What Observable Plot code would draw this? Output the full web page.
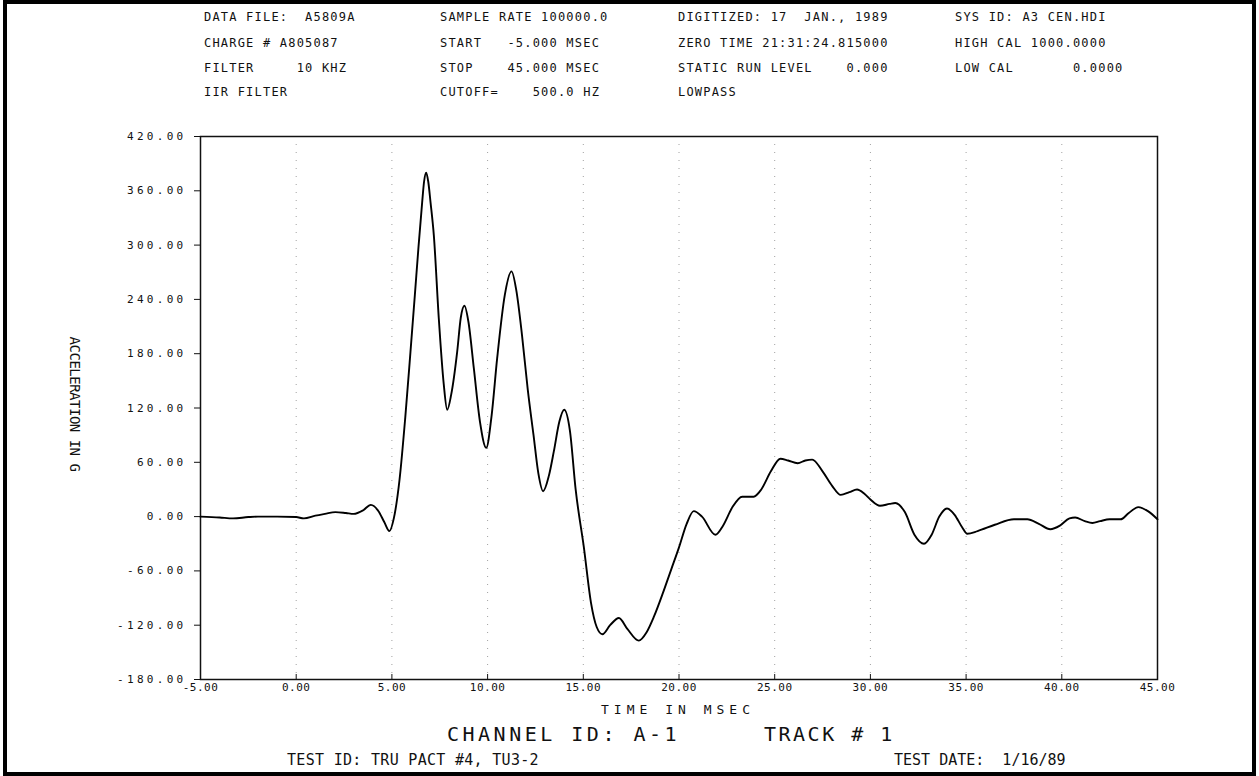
<!DOCTYPE html>
<html><head><meta charset="utf-8">
<script src="https://cdn.jsdelivr.net/npm/d3@7"></script>
<script src="https://cdn.jsdelivr.net/npm/@observablehq/plot@0.6"></script>
<style>
body{margin:0;background:#fff;}
#page{position:relative;width:1259px;height:776px;overflow:hidden;font-family:"DejaVu Sans Mono",monospace;color:#111;background:#fff;}
#border{position:absolute;left:3px;top:0;width:1253px;height:776px;border:4px solid #000;box-sizing:border-box;pointer-events:none;}
#chart{position:absolute;left:0;top:0;}
.t{position:absolute;white-space:pre;line-height:1;transform:translateY(-50%);}
.hd{font-size:12px;letter-spacing:1.2px;}
</style></head><body>
<div id="page"><div id="chart"></div><div id="border"></div></div>
<script>
// ---- data ----
const time = [-5.0,-4.0,-3.3,-2.5,-2.0,-1.0,0.0,0.4,1.0,1.5,2.05,2.6,3.0,3.5,3.9,4.3,4.6,4.87,5.1,5.4,5.7,5.97,6.2,6.39,6.58,6.68,6.79,6.9,7.02,7.19,7.45,7.71,7.89,8.1,8.41,8.6,8.79,9.0,9.28,9.6,9.93,10.2,10.5,10.9,11.25,11.5,11.8,12.1,12.4,12.65,12.9,13.2,13.46,13.75,14.0,14.3,14.6,15.03,15.4,15.7,16.0,16.4,16.86,17.3,17.9,18.3,18.7,19.2,19.6,20.0,20.4,20.77,21.2,21.9,22.3,22.78,23.3,23.9,24.3,24.8,25.3,25.7,26.2,26.6,26.96,27.5,28.0,28.45,28.9,29.3,29.7,30.0,30.5,31.0,31.3,31.8,32.3,32.8,33.2,33.6,34.0,34.4,34.8,35.06,35.6,36.5,37.5,38.2,38.8,39.4,39.9,40.4,40.7,41.2,41.6,42.0,42.5,43.07,43.5,44.0,44.5,45.0];
const accel = [0,-1,-2,-0.5,0,0,-0.5,-2,1,3,5,4,3,7,13,6,-6,-16,-2,41,110,182,245,298,347,370,380,370,347,311,219,146,118,135,182,220,233,215,164,105,76,110,175,245,271,250,200,140,90,48,28,45,72,105,118,95,30,-34,-95,-122,-130,-120,-112,-124,-137,-128,-110,-82,-58,-34,-8,6,0,-20,-10,10,22,22,30,50,64,62,59,62,63,50,34,24,27,30,25,19,12,14,15,5,-20,-30,-20,0,9,2,-12,-19,-16,-9,-3,-3,-8,-14,-10,-2,-1,-5,-7,-5,-3,-3,4,10.5,6,-3];
const xTicks = [-5,0,5,10,15,20,25,30,35,40,45];
const yTicks = [-180,-120,-60,0,60,120,180,240,300,360,420];

// ---- header / footer text ----
const headerRows = [17, 43, 68, 92];
const headerItems = [
  {x:204, r:0, t:"DATA FILE:  A5809A"},
  {x:204, r:1, t:"CHARGE # A805087"},
  {x:204, r:2, t:"FILTER     10 KHZ"},
  {x:204, r:3, t:"IIR FILTER"},
  {x:440, r:0, t:"SAMPLE RATE 100000.0"},
  {x:440, r:1, t:"START   -5.000 MSEC"},
  {x:440, r:2, t:"STOP    45.000 MSEC"},
  {x:440, r:3, t:"CUTOFF=    500.0 HZ"},
  {x:678, r:0, t:"DIGITIZED: 17  JAN., 1989"},
  {x:678, r:1, t:"ZERO TIME 21:31:24.815000"},
  {x:678, r:2, t:"STATIC RUN LEVEL    0.000"},
  {x:678, r:3, t:"LOWPASS"},
  {x:955, r:0, t:"SYS ID: A3 CEN.HDI"},
  {x:955, r:1, t:"HIGH CAL 1000.0000"},
  {x:955, r:2, t:"LOW CAL       0.0000"}
];
const yLabel = "ACCELERATION IN G";
const xLabel = "TIME IN MSEC";
const channelText = "CHANNEL ID: A-1";
const trackText = "TRACK # 1";
const testIdText = "TEST ID: TRU PACT #4, TU3-2";
const testDateText = "TEST DATE:  1/16/89";

const data = time.map((t, i) => ({t, a: accel[i]}));

const plot = Plot.plot({
  width: 1259, height: 776,
  marginLeft: 200, marginRight: 102, marginTop: 136, marginBottom: 97,
  style: {fontFamily: "DejaVu Sans Mono, monospace", color: "#111", background: "transparent"},
  x: {domain: [-5, 45]},
  y: {domain: [-180, 420]},
  marks: [
    Plot.ruleX(xTicks.slice(1, -1), {stroke: "#777", strokeWidth: 1, strokeDasharray: "1,7", strokeOpacity: 0.7}),
    Plot.frame({stroke: "#111", strokeWidth: 1.5}),
    Plot.axisY({ticks: yTicks, tickFormat: d => d.toFixed(2), tickSize: 6, tickPadding: 8, fontSize: 11, label: null, stroke: "#111"}),
    Plot.axisX({ticks: xTicks, tickFormat: d => d.toFixed(2), tickSize: -5, tickPadding: 9, fontSize: 11, label: null, stroke: "#111"}),
    Plot.line(data, {x: "t", y: "a", curve: "monotone-x", stroke: "#000", strokeWidth: 1.9})
  ]
});
document.getElementById("chart").appendChild(plot);
d3.select(plot).selectAll('g[aria-label="y-axis tick label"] text').style("letter-spacing", "3.3px");
d3.select(plot).selectAll('g[aria-label="x-axis tick label"] text').style("letter-spacing", "0.5px");

const page = document.getElementById("page");
function addText(x, y, text, css, cls) {
  const d = document.createElement("div");
  d.className = "t " + (cls || "");
  d.textContent = text;
  d.style.left = x + "px";
  d.style.top = y + "px";
  Object.assign(d.style, css || {});
  page.appendChild(d);
  return d;
}
headerItems.forEach(h => addText(h.x, headerRows[h.r], h.t, {}, "hd"));
addText(75, 404, yLabel, {fontSize: "14px", letterSpacing: "-0.5px", transform: "translate(-50%,-50%) rotate(90deg)"});
addText(678, 709, xLabel, {fontSize: "13px", letterSpacing: "5px", transform: "translate(-50%,-50%)"});
addText(447, 734, channelText, {fontSize: "20px", letterSpacing: "3.5px"});
addText(764, 734, trackText, {fontSize: "20px", letterSpacing: "2.5px"});
addText(287, 760, testIdText, {fontSize: "15px", letterSpacing: "0.3px"});
addText(894, 760, testDateText, {fontSize: "15px", letterSpacing: "0px"});
</script>
</body></html>
